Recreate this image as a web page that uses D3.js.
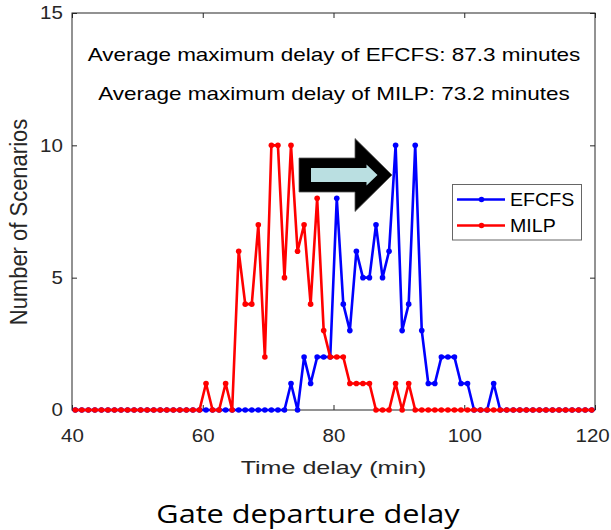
<!DOCTYPE html>
<html>
<head>
<meta charset="utf-8">
<script src="https://cdn.jsdelivr.net/npm/d3@7/dist/d3.min.js"></script>
<style>
  html, body { margin: 0; padding: 0; background: #fff; }
  svg { display: block; }
</style>
</head>
<body>
<svg id="chart" width="611" height="530"></svg>
<script>
// Histogram of gate departure delay, one-minute bins (bin centres 40.5 ... 119.5)
const binStart = 40.5;
const binCount = 80;
const binCentres = d3.range(binCount).map(i => binStart + i);

// Number of scenarios per bin, EFCFS scheduling
const efcfsCounts = [
  0,0,0,0,0,0,0,0,0,0,   // 40.5 - 49.5
  0,0,0,0,0,0,0,0,0,0,   // 50.5 - 59.5
  0,0,0,0,0,0,0,0,0,0,   // 60.5 - 69.5
  0,0,0,1,0,2,1,2,2,2,   // 70.5 - 79.5
  8,4,3,6,5,5,7,5,6,10,  // 80.5 - 89.5
  3,4,10,3,1,1,2,2,2,1,  // 90.5 - 99.5
  1,0,0,0,1,0,0,0,0,0,   // 100.5 - 109.5
  0,0,0,0,0,0,0,0,0,0    // 110.5 - 119.5
];

// Number of scenarios per bin, MILP scheduling
const milpCounts = [
  0,0,0,0,0,0,0,0,0,0,   // 40.5 - 49.5
  0,0,0,0,0,0,0,0,0,0,   // 50.5 - 59.5
  1,0,0,1,0,6,4,4,7,2,   // 60.5 - 69.5
  10,10,5,10,6,7,4,8,3,2,// 70.5 - 79.5
  2,2,1,1,1,1,0,0,0,1,   // 80.5 - 89.5
  0,1,0,0,0,0,0,0,0,0,   // 90.5 - 99.5
  0,0,0,0,0,0,0,0,0,0,   // 100.5 - 109.5
  0,0,0,0,0,0,0,0,0,0    // 110.5 - 119.5
];

const xTicks = [40, 60, 80, 100, 120];
const yTicks = [0, 5, 10, 15];
const seriesNames = ["EFCFS", "MILP"];
const seriesColors = ["#0000ff", "#ff0000"];
const annotations = [
  "Average maximum delay of EFCFS: 87.3 minutes",
  "Average maximum delay of MILP: 73.2 minutes"
];
const xLabel = "Time delay (min)";
const yLabel = "Number of Scenarios";
const caption = "Gate departure delay";

const svg = d3.select("#chart");
const axisFont = "'Liberation Sans', Arial, Helvetica, sans-serif";
const axisColor = "#262626";

// The exported figure is wider than it is tall, so lettering is drawn
// slightly stretched horizontally.
function stretchedText(parent, px, py, str, opts) {
  return parent.append("text")
    .attr("transform", `translate(${px},${py}) scale(${opts.sx || 1},${opts.sy || 1})` + (opts.rotate ? ` rotate(${opts.rotate})` : ""))
    .attr("text-anchor", opts.anchor || "middle")
    .style("font-family", opts.font || axisFont)
    .style("font-size", opts.size + "px")
    .attr("fill", opts.fill || "#000")
    .text(str);
}

const plot = { left: 72, right: 595, top: 13, bottom: 410 };
const x = d3.scaleLinear().domain([40, 120]).range([plot.left, plot.right]);
const y = d3.scaleLinear().domain([0, 15]).range([plot.bottom, plot.top]);

// Box around the axes
svg.append("rect")
  .attr("x", plot.left).attr("y", plot.top)
  .attr("width", plot.right - plot.left).attr("height", plot.bottom - plot.top)
  .attr("fill", "none").attr("stroke", axisColor).attr("stroke-width", 1);

// Axes with inward ticks on all four sides
const tickLen = 5;
const tickStretch = 1.14;
function styleAxis(g) {
  g.select(".domain").remove();
  g.selectAll(".tick line").attr("stroke", axisColor);
  g.selectAll(".tick text")
    .attr("fill", "#262626")
    .attr("transform", `scale(${tickStretch},1)`)
    .style("font-family", axisFont)
    .style("font-size", "18px");
}
const xAxisG = svg.append("g")
  .attr("transform", `translate(0,${plot.bottom})`)
  .call(d3.axisBottom(x).tickValues(xTicks).tickSizeInner(-tickLen).tickSizeOuter(0).tickPadding(19))
  .call(styleAxis);
// keep the last label inside the figure's right edge
xAxisG.selectAll(".tick text")
  .filter(d => d === xTicks[xTicks.length - 1])
  .attr("text-anchor", "end")
  .attr("x", 12.5);
svg.append("g")
  .attr("transform", `translate(0,${plot.top})`)
  .call(d3.axisTop(x).tickValues(xTicks).tickSizeInner(-tickLen).tickSizeOuter(0).tickFormat(""))
  .call(styleAxis);
svg.append("g")
  .attr("transform", `translate(${plot.left},0)`)
  .call(d3.axisLeft(y).tickValues(yTicks).tickSizeInner(-tickLen).tickSizeOuter(0).tickPadding(8))
  .call(styleAxis);
svg.append("g")
  .attr("transform", `translate(${plot.right},0)`)
  .call(d3.axisRight(y).tickValues(yTicks).tickSizeInner(-tickLen).tickSizeOuter(0).tickFormat(""))
  .call(styleAxis);

// Axis titles
stretchedText(svg, (plot.left + plot.right) / 2, 474, xLabel, { size: 19, sx: 1.32, fill: "#262626" });
stretchedText(svg, 27, 222, yLabel, { size: 22, sx: 1.1, rotate: -90, fill: "#262626" });

// Series lines with dot markers
const series = [efcfsCounts, milpCounts];
const line = d3.line().x((d, i) => x(binCentres[i])).y(d => y(d));
series.forEach((vals, s) => {
  const g = svg.append("g");
  g.append("path")
    .datum(vals)
    .attr("d", line)
    .attr("fill", "none")
    .attr("stroke", seriesColors[s])
    .attr("stroke-width", 2.6)
    .attr("stroke-linejoin", "round");
  g.selectAll("circle")
    .data(vals)
    .join("circle")
    .attr("cx", (d, i) => x(binCentres[i]))
    .attr("cy", d => y(d))
    .attr("r", 2.8)
    .attr("fill", seriesColors[s]);
});

// Summary text
annotations.forEach((t, i) => {
  stretchedText(svg, 334, 61 + i * 39, t, { size: 17.5, sx: 1.285 });
});

// Shift arrow from MILP towards EFCFS
const arrowOuter = [
  [299, 158], [355, 158], [355, 138.5], [392, 175],
  [355, 211.5], [355, 192], [299, 192]
];
const arrowInner = [
  [311, 168], [366.5, 168], [366.5, 164.5], [377.5, 175],
  [366.5, 185.5], [366.5, 182], [311, 182]
];
svg.append("path")
  .attr("d", d3.line()(arrowOuter) + "Z")
  .attr("fill", "#000").attr("stroke", "#555").attr("stroke-width", 0.8);
svg.append("path")
  .attr("d", d3.line()(arrowInner) + "Z")
  .attr("fill", "#badfe1");

// Legend
const lg = svg.append("g");
lg.append("rect")
  .attr("x", 452.5).attr("y", 184.5).attr("width", 129).attr("height", 55.5)
  .attr("fill", "#fff").attr("stroke", "#666").attr("stroke-width", 1);
seriesNames.forEach((name, i) => {
  const ly = 199.5 + i * 26;
  lg.append("line")
    .attr("x1", 457).attr("x2", 505).attr("y1", ly).attr("y2", ly)
    .attr("stroke", seriesColors[i]).attr("stroke-width", 2.6);
  lg.append("circle")
    .attr("cx", 481.5).attr("cy", ly).attr("r", 2.8).attr("fill", seriesColors[i]);
  stretchedText(lg, 510, ly + 6.3, name, { size: 17.5, sx: 1.12, anchor: "start" });
});

// Caption under the chart
stretchedText(svg, 308, 523, caption, { size: 26, sx: 1.18, font: "'Open Sans', 'Noto Sans', sans-serif" });
</script>
</body>
</html>
